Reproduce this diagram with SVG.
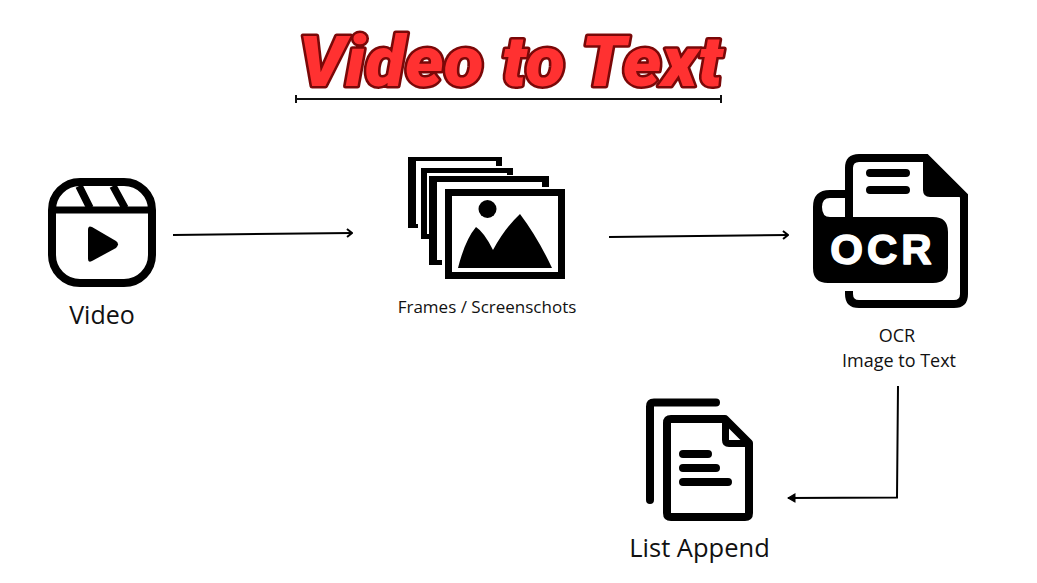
<svg xmlns="http://www.w3.org/2000/svg" width="1037" height="583" viewBox="0 0 1037 583">
<defs>
<style>
.lbl{font-family:"Open Sans","Noto Sans",sans-serif;fill:#111;text-anchor:middle}
.ico{fill:none;stroke:#000}
.con{fill:none;stroke:#000;stroke-width:2}
</style>
<marker id="open" viewBox="0 0 10 10" refX="9" refY="5" markerWidth="5" markerHeight="5" orient="auto"><path d="M4 1L9 5L4 9" fill="none" stroke="#000" stroke-width="2"/></marker>
<marker id="solid" viewBox="0 0 10 10" refX="9" refY="5" markerWidth="5" markerHeight="5" orient="auto"><path d="M2 1L9 5L2 9Z" fill="#000" stroke="#000"/></marker>
</defs>
<rect width="1037" height="583" fill="#fff"/>
<g id="title">
<text x="510.5" y="86" text-anchor="middle" font-family="Roboto,'Liberation Sans',sans-serif" font-weight="900" font-style="italic" font-size="70" textLength="424" lengthAdjust="spacingAndGlyphs" fill="#ff3131" stroke="#7a0808" stroke-width="5" stroke-linejoin="round" paint-order="stroke">Video to Text</text>
<path d="M296 99H721M296 95V103M721 95V103" fill="none" stroke="#111" stroke-width="2"/>
</g>
<g id="video">
<rect class="ico" x="52" y="182" width="100" height="101" rx="28" stroke-width="8"/>
<path class="ico" d="M52 210H152" stroke-width="7"/>
<path class="ico" d="M79 186L90 208M113 186L125 208" stroke-width="7.500"/>
<path d="M88 230Q88 225 92 227L116 241Q120 244 116 248L92 261Q88 263 88 259Z" fill="#000"/>
<text class="lbl" x="102" y="324" font-size="25">Video</text>
</g>
<g id="frames">
<path d="M408 157H502V166H496V161H416V224H418V228H408Z" fill="#000"/>
<path d="M421 168H513V175H507V173H427V234H429V239H421Z" fill="#000"/>
<path d="M429 176H549V187H542V182H437V260H442V265H429Z" fill="#000"/>
<rect class="ico" x="448.500" y="192.500" width="113" height="83" stroke-width="7"/>
<circle cx="487.500" cy="209" r="9" fill="#000"/>
<path d="M458 268Q465 240 476 227Q484 232 493 250Q505 228 520 214Q538 238 552 268Z" fill="#000"/>
<text class="lbl" x="487" y="313" font-size="17">Frames / Screenschots</text>
</g>
<g id="ocr">
<path class="ico" d="M849 218V168Q849 158 859 158H926L964 196V294Q964 304 954 304H859Q849 304 849 294V291" stroke-width="8"/>
<path d="M923 156L968 197H930Q923 197 923 190Z" fill="#000"/>
<path d="M870 173H906M870 190H906" class="ico" stroke-width="8" stroke-linecap="round"/>
<path fill-rule="evenodd" d="M849 190H830Q813 190 813 207V268Q813 283 828 283H933Q948 283 948 268V232Q948 217 933 217H849ZM845 198H830Q822 198 822 207Q822 217 830 217H845Z" fill="#000"/>
<text x="883" y="264" text-anchor="middle" font-family="'Liberation Sans',sans-serif" font-weight="700" font-size="42" letter-spacing="4" fill="#fff" stroke="#fff" stroke-width="1.500" stroke-linejoin="round">OCR</text>
<text class="lbl" x="897" y="342" font-size="18">OCR</text>
<text class="lbl" x="899" y="367" font-size="18">Image to Text</text>
</g>
<g id="list">
<path class="ico" d="M716 402.500H654Q650 402.500 650 406.500V500" stroke-width="8" stroke-linecap="round"/>
<path class="ico" d="M671 419H725L749 443V513Q749 517 745 517H671Q667 517 667 513V423Q667 419 671 419Z" stroke-width="8" stroke-linejoin="round"/>
<path class="ico" d="M725.500 419V440Q725.500 443.500 729 443.500H749" stroke-width="7"/>
<path class="ico" d="M683 454H708M683 468H716M683 482H728" stroke-width="8" stroke-linecap="round"/>
<text class="lbl" x="699.500" y="557" font-size="25.500">List Append</text>
</g>
<g id="connectors">
<path class="con" d="M173 235L352 233" marker-end="url(#open)"/>
<path class="con" d="M609 237L788 235" marker-end="url(#open)"/>
<path class="con" d="M898 386L897 497.500L788 498" marker-end="url(#solid)"/>
</g>
</svg>
